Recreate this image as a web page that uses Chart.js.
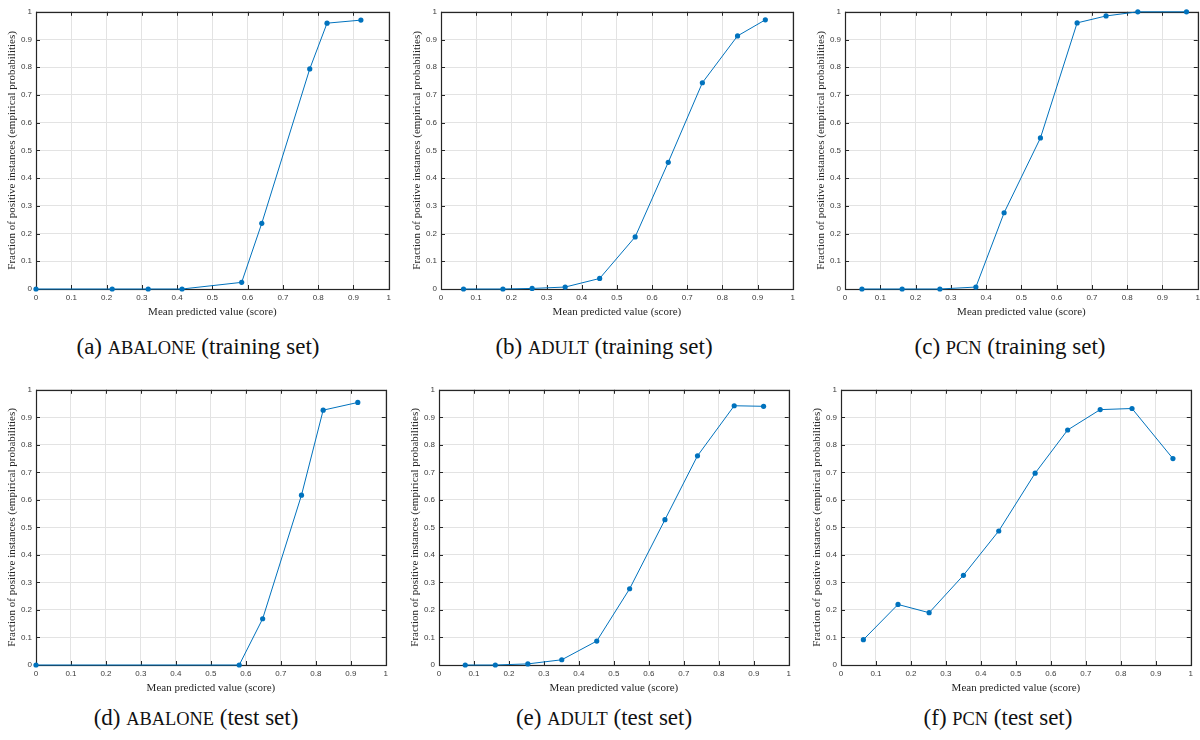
<!DOCTYPE html>
<html>
<head>
<meta charset="utf-8">
<script src="https://cdn.jsdelivr.net/npm/chart.js@4.4.0/dist/chart.umd.min.js"></script>
<style>
  html, body { margin: 0; padding: 0; background: #fff; }
  body { width: 1200px; height: 740px; position: relative; overflow: hidden; }
  .panel { position: absolute; }
  .caption {
    position: absolute;
    font-family: "Liberation Serif", "DejaVu Serif", serif;
    font-size: 23px;
    color: #111;
    white-space: nowrap;
    transform: translate(-50%, -50%);
  }
  .sc { font-size: 0.8em; }
</style>
</head>
<body>
<div class="panel" id="pa"><canvas id="ca"></canvas></div>
<div class="panel" id="pb"><canvas id="cb"></canvas></div>
<div class="panel" id="pc"><canvas id="cc"></canvas></div>
<div class="panel" id="pd"><canvas id="cd"></canvas></div>
<div class="panel" id="pe"><canvas id="ce"></canvas></div>
<div class="panel" id="pf"><canvas id="cf"></canvas></div>

<div class="caption" style="left:198px; top:347px">(a) <span class="sc">ABALONE</span> (training set)</div>
<div class="caption" style="left:604px; top:347px">(b) <span class="sc">ADULT</span> (training set)</div>
<div class="caption" style="left:1010px; top:347px">(c) <span class="sc">PCN</span> (training set)</div>
<div class="caption" style="left:196px; top:718px">(d) <span class="sc">ABALONE</span> (test set)</div>
<div class="caption" style="left:604px; top:718px">(e) <span class="sc">ADULT</span> (test set)</div>
<div class="caption" style="left:998px; top:718px">(f) <span class="sc">PCN</span> (test set)</div>

<script>
const tickLabels = ['0', '0.1', '0.2', '0.3', '0.4', '0.5', '0.6', '0.7', '0.8', '0.9', '1'];

// training set
const abaloneTrainX = [0, 0.216, 0.318, 0.414, 0.583, 0.640, 0.776, 0.825, 0.921];
const abaloneTrainY = [0, 0, 0, 0, 0.024, 0.237, 0.794, 0.959, 0.970];
const adultTrainX = [0.064, 0.176, 0.259, 0.353, 0.451, 0.552, 0.646, 0.743, 0.843, 0.922];
const adultTrainY = [0, 0, 0.002, 0.007, 0.038, 0.188, 0.457, 0.744, 0.913, 0.971];
const pcnTrainX = [0.048, 0.162, 0.269, 0.371, 0.451, 0.554, 0.658, 0.740, 0.830, 0.968];
const pcnTrainY = [0, 0, 0, 0.007, 0.275, 0.545, 0.960, 0.985, 1, 1];

// test set
const abaloneTestX = [0, 0.581, 0.648, 0.759, 0.821, 0.920];
const abaloneTestY = [0, 0, 0.168, 0.617, 0.926, 0.954];
const adultTestX = [0.075, 0.161, 0.254, 0.351, 0.451, 0.545, 0.646, 0.739, 0.844, 0.928];
const adultTestY = [0, 0, 0.004, 0.019, 0.087, 0.277, 0.528, 0.760, 0.942, 0.940];
const pcnTestX = [0.064, 0.163, 0.252, 0.350, 0.451, 0.555, 0.648, 0.741, 0.832, 0.949];
const pcnTestY = [0.092, 0.220, 0.190, 0.326, 0.487, 0.697, 0.854, 0.928, 0.932, 0.750];

const xTitle = 'Mean predicted value (score)';
const yTitle = 'Fraction of positive instances (empirical probabilities)';

// axes box with inward ticks on all four sides (matlab look)
const boxPlugin = {
  id: 'box',
  beforeDatasetsDraw(chart) {
    const { ctx, chartArea: a, scales: { x, y } } = chart;
    const len = 4;
    ctx.save();
    ctx.strokeStyle = '#262626';
    ctx.lineWidth = 1;
    ctx.beginPath();
    x.ticks.forEach(t => {
      const px = Math.round(x.getPixelForValue(t.value)) + 0.5;
      ctx.moveTo(px, a.bottom); ctx.lineTo(px, a.bottom - len);
      ctx.moveTo(px, a.top); ctx.lineTo(px, a.top + len);
    });
    y.ticks.forEach(t => {
      const py = Math.round(y.getPixelForValue(t.value)) + 0.5;
      ctx.moveTo(a.left, py); ctx.lineTo(a.left + len, py);
      ctx.moveTo(a.right, py); ctx.lineTo(a.right - len, py);
    });
    ctx.stroke();
    ctx.lineWidth = 1.2;
    ctx.strokeRect(Math.round(a.left) + 0.5, Math.round(a.top) + 0.5,
      Math.round(a.right - a.left), Math.round(a.bottom - a.top));
    ctx.restore();
  }
};

const tickFont = { family: 'Liberation Sans', size: 8 };
const titleFont = { family: 'Liberation Serif', size: 11 };

function makePanel(boxId, canvasId, xs, ys, area) {
  const padL = 36, padT = 8, padR = 6, padB = 30;
  const box = document.getElementById(boxId);
  box.style.left = (area.left - padL) + 'px';
  box.style.top = (area.top - padT) + 'px';
  box.style.width = (area.right - area.left + padL + padR) + 'px';
  box.style.height = (area.bottom - area.top + padT + padB) + 'px';

  new Chart(document.getElementById(canvasId), {
    type: 'line',
    data: {
      datasets: [{
        data: xs.map((v, i) => ({ x: v, y: ys[i] })),
        borderColor: '#0072BD',
        backgroundColor: '#0072BD',
        borderWidth: 1,
        pointRadius: 2.6,
        pointBorderWidth: 0,
        pointStyle: 'circle',
        tension: 0,
        clip: false
      }]
    },
    options: {
      responsive: true,
      maintainAspectRatio: false,
      animation: false,
      layout: { padding: { top: padT, right: padR, left: 0, bottom: 0 } },
      plugins: { legend: { display: false }, tooltip: { enabled: false } },
      scales: {
        x: {
          type: 'linear', min: 0, max: 1,
          afterFit: s => { s.height = padB; },
          ticks: {
            stepSize: 0.1, padding: 4, color: '#3a3a3a', font: tickFont,
            maxRotation: 0, autoSkip: false,
            callback: v => tickLabels[Math.round(v * 10)]
          },
          grid: { color: '#e3e3e3', drawTicks: false },
          border: { display: false },
          title: { display: true, text: xTitle, color: '#262626', font: titleFont, padding: 0 }
        },
        y: {
          type: 'linear', min: 0, max: 1,
          afterFit: s => { s.width = padL; },
          ticks: {
            stepSize: 0.1, padding: 4, color: '#3a3a3a', font: tickFont,
            autoSkip: false,
            callback: v => tickLabels[Math.round(v * 10)]
          },
          grid: { color: '#e3e3e3', drawTicks: false },
          border: { display: false },
          title: { display: true, text: yTitle, color: '#262626', font: titleFont, padding: { top: 6, bottom: 6 } }
        }
      }
    },
    plugins: [boxPlugin]
  });
}

makePanel('pa', 'ca', abaloneTrainX, abaloneTrainY, { left: 36, right: 389, top: 11, bottom: 289 });
makePanel('pb', 'cb', adultTrainX, adultTrainY, { left: 441, right: 793, top: 11, bottom: 289 });
makePanel('pc', 'cc', pcnTrainX, pcnTrainY, { left: 845, right: 1198, top: 11, bottom: 289 });
makePanel('pd', 'cd', abaloneTestX, abaloneTestY, { left: 36, right: 386, top: 389, bottom: 665 });
makePanel('pe', 'ce', adultTestX, adultTestY, { left: 439, right: 789, top: 389, bottom: 665 });
makePanel('pf', 'cf', pcnTestX, pcnTestY, { left: 841, right: 1191, top: 389, bottom: 665 });
</script>
</body>
</html>
